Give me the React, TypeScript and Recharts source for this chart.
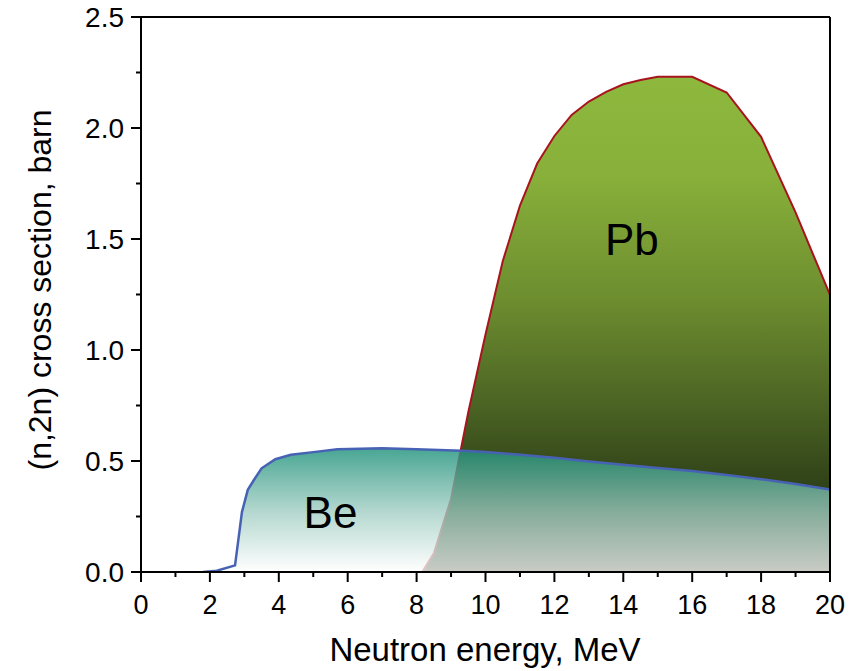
import { ComposedChart, Area, XAxis, YAxis, ReferenceLine, ReferenceDot, Label } from 'recharts'

// neutron energy (MeV) and (n,2n) cross section (barn)
const beEnergy = [1.8, 2.2, 2.73, 2.93, 3.1, 3.3, 3.5, 3.9, 4.35, 5, 5.7, 7, 8, 9.3, 10, 11, 12, 13, 14, 15, 16, 17, 18, 19, 20]
const beSigma  = [0, 0.006, 0.03, 0.27, 0.37, 0.42, 0.467, 0.508, 0.528, 0.54, 0.553, 0.557, 0.553, 0.546, 0.54, 0.528, 0.515, 0.498, 0.483, 0.469, 0.455, 0.437, 0.418, 0.396, 0.372]

const pbEnergy = [8.16, 8.5, 9, 9.5, 10, 10.5, 11, 11.5, 12, 12.5, 13, 13.5, 14, 14.5, 15, 16, 17, 18, 19, 20]
const pbSigma  = [0, 0.084, 0.33, 0.72, 1.07, 1.4, 1.65, 1.84, 1.964, 2.059, 2.119, 2.163, 2.197, 2.216, 2.231, 2.231, 2.16, 1.96, 1.62, 1.248]

const xTicks = [0, 1, 2, 3, 4, 5, 6, 7, 8, 9, 10, 11, 12, 13, 14, 15, 16, 17, 18, 19, 20]
const yTicks = [0, 0.25, 0.5, 0.75, 1, 1.25, 1.5, 1.75, 2, 2.25, 2.5]

const FONT = '"Liberation Sans", Arial, sans-serif'

type Row = { x: number; be?: number; pb?: number }

function buildRows(): Row[] {
  const map = new Map<number, Row>()
  beEnergy.forEach((x, i) => { map.set(x, { ...(map.get(x) ?? { x }), be: beSigma[i] }) })
  pbEnergy.forEach((x, i) => { map.set(x, { ...(map.get(x) ?? { x }), pb: pbSigma[i] }) })
  return [...map.values()].sort((a, b) => a.x - b.x)
}

const rows = buildRows()

function XTick(props: any) {
  const { x, y, payload } = props
  const major = payload.value % 2 === 0
  return (
    <g>
      <line x1={x} y1={y} x2={x} y2={y + (major ? 10 : 5)} stroke="#000" strokeWidth={2} />
      {major && (
        <text x={x} y={y + 42} textAnchor="middle" fontSize={27} fontFamily={FONT} fill="#000">
          {payload.value}
        </text>
      )}
    </g>
  )
}

function YTick(props: any) {
  const { x, y, payload } = props
  const major = Math.abs((payload.value * 2) % 1) < 1e-9
  return (
    <g>
      <line x1={x - (major ? 10 : 5)} y1={y} x2={x} y2={y} stroke="#000" strokeWidth={2} />
      {major && (
        <text x={x - 17} y={y + 10} textAnchor="end" fontSize={28} fontFamily={FONT} fill="#000">
          {payload.value.toFixed(1)}
        </text>
      )}
    </g>
  )
}

export default function App() {
  return (
    <div style={{ width: 856, height: 671 }}>
      <style>{'body{margin:0}'}</style>
      <ComposedChart width={856} height={671} data={rows} margin={{ top: 17, right: 26, bottom: 39, left: 61 }}>
        <defs>
          <linearGradient id="pbFill" x1="0" y1="0" x2="0" y2="1">
            <stop offset="0" stopColor="#8db83d" />
            <stop offset="0.2" stopColor="#88b03a" />
            <stop offset="0.45" stopColor="#6d8d2f" />
            <stop offset="0.65" stopColor="#4d6624" />
            <stop offset="0.8" stopColor="#34471a" />
            <stop offset="1" stopColor="#1c270c" />
          </linearGradient>
          <linearGradient id="beFill" x1="0" y1="0" x2="0" y2="1">
            <stop offset="0" stopColor="#1d917a" stopOpacity={0.81} />
            <stop offset="0.5" stopColor="#9ccbc0" stopOpacity={0.78} />
            <stop offset="1" stopColor="#ffffff" stopOpacity={0.76} />
          </linearGradient>
        </defs>
        <XAxis
          dataKey="x" type="number" domain={[0, 20]} ticks={xTicks} interval={0}
          height={60} tickSize={0} tickMargin={0} tick={<XTick />}
          axisLine={{ stroke: '#000', strokeWidth: 2 }} allowDataOverflow
        >
          <Label
            content={() => (
              <text x={485} y={661} textAnchor="middle" fontSize={33} fontFamily={FONT} fill="#000">
                Neutron energy, MeV
              </text>
            )}
          />
        </XAxis>
        <YAxis
          type="number" domain={[0, 2.5]} ticks={yTicks} interval={0}
          width={80} tickSize={0} tickMargin={0} tick={<YTick />}
          axisLine={{ stroke: '#000', strokeWidth: 2 }} allowDataOverflow
        >
          <Label
            content={() => (
              <text x={51} y={290} transform="rotate(-90 51 290)" textAnchor="middle" fontSize={32} fontFamily={FONT} fill="#000">
                (n,2n) cross section, barn
              </text>
            )}
          />
        </YAxis>
        <ReferenceLine y={2.5} stroke="#000" strokeWidth={2} ifOverflow="visible" />
        <ReferenceLine x={20} stroke="#000" strokeWidth={2} ifOverflow="visible" />
        <Area
          dataKey="pb" type="linear" connectNulls baseValue={0}
          stroke="#a8141e" strokeWidth={2} fill="url(#pbFill)" fillOpacity={1}
          dot={false} activeDot={false} isAnimationActive={false}
        />
        <Area
          dataKey="be" type="linear" connectNulls baseValue={0}
          stroke="#4762b4" strokeWidth={2.5} fill="url(#beFill)" fillOpacity={1}
          dot={false} activeDot={false} isAnimationActive={false}
        />
        <ReferenceDot x={14.25} y={1.5} r={0} fill="none" stroke="none"
          label={{ value: 'Pb', position: 'center', fontSize: 44, fill: '#000', fontFamily: FONT }} />
        <ReferenceDot x={5.5} y={0.27} r={0} fill="none" stroke="none"
          label={{ value: 'Be', position: 'center', fontSize: 44, fill: '#000', fontFamily: FONT }} />
      </ComposedChart>
    </div>
  )
}
